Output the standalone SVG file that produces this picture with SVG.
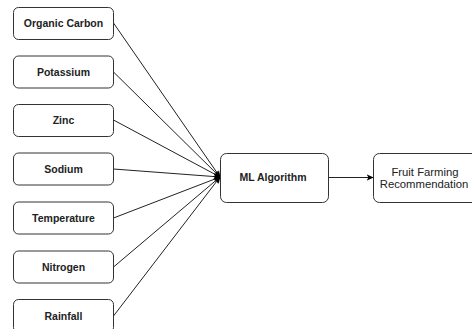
<svg xmlns="http://www.w3.org/2000/svg" width="472" height="329" viewBox="0 0 472 329">
<defs>
<marker id="arr" viewBox="0 0 10 10" refX="9" refY="5" markerWidth="7" markerHeight="7" markerUnits="userSpaceOnUse" orient="auto">
<path d="M0,0.5 L10,5 L0,9.5 L2.5,5 Z" fill="#000"/>
</marker>
</defs>
<style>
.box{fill:#fff;stroke:#333;stroke-width:1}
.t{font-family:"Liberation Sans",Arial,sans-serif;font-size:10.5px;font-weight:bold;fill:#222;text-anchor:middle}
.r{font-family:"Liberation Sans",Arial,sans-serif;font-size:11.3px;fill:#222;text-anchor:middle}
.c{fill:none;stroke:#222;stroke-width:1}
</style>
<rect width="472" height="329" fill="#fff"/>
<g id="connectors">
<line class="c" x1="113.5" y1="23" x2="220" y2="177" marker-end="url(#arr)"/>
<line class="c" x1="113.5" y1="72" x2="220" y2="177" marker-end="url(#arr)"/>
<line class="c" x1="113.5" y1="120" x2="220" y2="177" marker-end="url(#arr)"/>
<line class="c" x1="113.5" y1="169" x2="220" y2="177" marker-end="url(#arr)"/>
<line class="c" x1="113.5" y1="218" x2="220" y2="177" marker-end="url(#arr)"/>
<line class="c" x1="113.5" y1="267" x2="220" y2="177" marker-end="url(#arr)"/>
<line class="c" x1="113.5" y1="316" x2="220" y2="177" marker-end="url(#arr)"/>
<line class="c" x1="328.5" y1="177.5" x2="373" y2="177.5" marker-end="url(#arr)"/>
</g>
<g id="organic-carbon"><rect class="box" x="13.5" y="7.5" width="100" height="32" rx="5"/><text class="t" x="63.5" y="27">Organic Carbon</text></g>
<g id="potassium"><rect class="box" x="13.5" y="56" width="100" height="32" rx="5"/><text class="t" x="63.5" y="75.5">Potassium</text></g>
<g id="zinc"><rect class="box" x="13.5" y="104.5" width="100" height="32" rx="5"/><text class="t" x="63.5" y="124">Zinc</text></g>
<g id="sodium"><rect class="box" x="13.5" y="153" width="100" height="32" rx="5"/><text class="t" x="63.5" y="172.5">Sodium</text></g>
<g id="temperature"><rect class="box" x="13.5" y="202" width="100" height="32" rx="5"/><text class="t" x="63.5" y="221.5">Temperature</text></g>
<g id="nitrogen"><rect class="box" x="13.5" y="251" width="100" height="32" rx="5"/><text class="t" x="63.5" y="270.5">Nitrogen</text></g>
<g id="rainfall"><rect class="box" x="13.5" y="299.5" width="100" height="33" rx="5"/><text class="t" x="63.5" y="319.5">Rainfall</text></g>
<g id="ml-algorithm"><rect class="box" x="220.5" y="153.5" width="108" height="49" rx="6"/><text class="t" x="273" y="181">ML Algorithm</text></g>
<g id="fruit-farming"><rect class="box" x="373.5" y="153.5" width="106" height="49" rx="6"/><text class="r" x="425" y="176">Fruit Farming</text><text class="r" x="424" y="188">Recommendation</text></g>
</svg>
